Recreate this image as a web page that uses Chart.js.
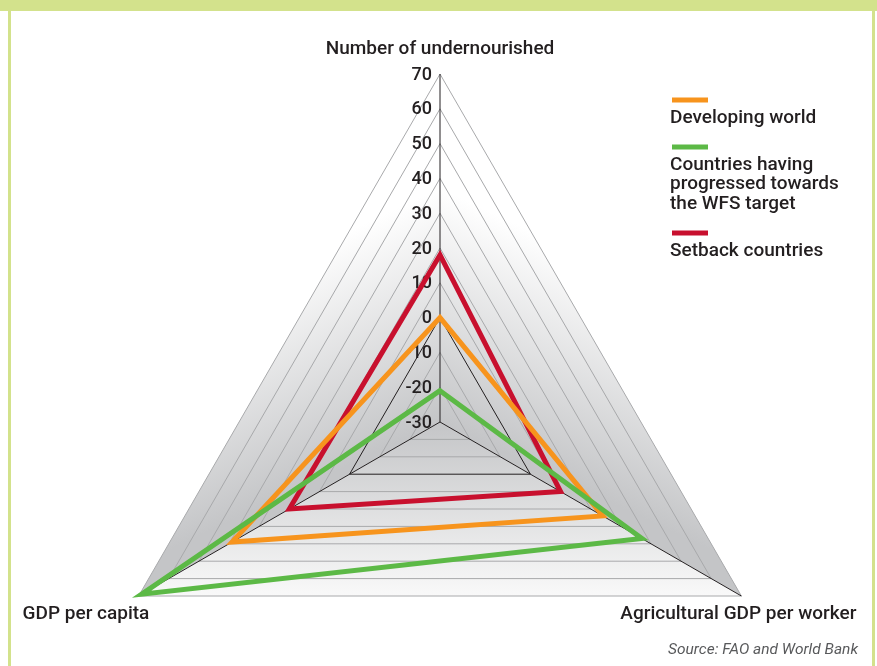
<!DOCTYPE html>
<html><head><meta charset="utf-8">
<script src="https://cdn.jsdelivr.net/npm/chart.js@4/dist/chart.umd.min.js"></script>
<style>
html,body{margin:0;padding:0;overflow:hidden;background:#fff;width:877px;height:666px;}
#band{position:absolute;left:0;top:0;width:877px;height:11px;background:#d3e28c;}
#lb{position:absolute;left:8px;top:0;width:3px;height:666px;background:#d3e28c;}
#rb{position:absolute;left:872px;top:0;width:3px;height:666px;background:#d3e28c;}
#wrap{position:absolute;left:0;top:0;width:877px;height:770px;}
</style></head><body>
<div id="band"></div><div id="lb"></div><div id="rb"></div>
<div id="wrap"><canvas id="c"></canvas></div>
<script>
const categories = ["Number of undernourished", "Agricultural GDP per worker", "GDP per capita"];
const developingWorld = [0, 24, 39];
const progressedCountries = [-21, 37, 69];
const setbackCountries = [18, 10, 20];
const tickValues = [-30, -20, -10, 0, 10, 20, 30, 40, 50, 60, 70];
const seriesNames = [["Developing world"], ["Countries having", "progressed towards", "the WFS target"], ["Setback countries"]];
const seriesColors = ["#f7941d", "#5cb946", "#c8102e"];
const sourceNote = "Source: FAO and World Bank";

const FONT = 'Roboto, "DejaVu Sans", sans-serif';
const INK = '#231f20';

const facePlugin = {
  id: 'faces',
  beforeDraw(chart) {
    const s = chart.scales.r, ctx = chart.ctx;
    const C = {x: s.xCenter, y: s.yCenter};
    const R = s.getDistanceFromCenterForValue(s.max);
    const V = [0, 1, 2].map(i => s.getPointPosition(i, R));
    function face(a, b, fill) {
      ctx.beginPath(); ctx.moveTo(C.x, C.y); ctx.lineTo(a.x, a.y); ctx.lineTo(b.x, b.y); ctx.closePath();
      ctx.fillStyle = fill; ctx.fill();
    }
    function along(a, b, t) { return {x: a.x + t * (b.x - a.x), y: a.y + t * (b.y - a.y)}; }
    ctx.save();
    let p = along(V[0], V[1], 0.3);
    let g = ctx.createLinearGradient(p.x, p.y, C.x, C.y);
    g.addColorStop(0, '#ffffff'); g.addColorStop(1, '#c4c5c7');
    face(V[0], V[1], g);
    p = along(V[0], V[2], 0.3);
    g = ctx.createLinearGradient(p.x, p.y, C.x, C.y);
    g.addColorStop(0, '#ffffff'); g.addColorStop(1, '#c4c5c7');
    face(V[2], V[0], g);
    g = ctx.createLinearGradient(C.x, V[1].y, C.x, C.y);
    g.addColorStop(0, '#f9f9f9'); g.addColorStop(1, '#c4c5c7');
    face(V[1], V[2], g);
    ctx.restore();
  },
  beforeDatasetsDraw(chart) {
    const s = chart.scales.r, ctx = chart.ctx;
    ctx.save();
    ctx.fillStyle = INK;
    ctx.font = '500 18px ' + FONT;
    ctx.textAlign = 'right'; ctx.textBaseline = 'middle';
    tickValues.forEach(v => {
      const y = s.yCenter - s.getDistanceFromCenterForValue(v);
      ctx.fillText(String(v), s.xCenter - 8, y + 1);
    });
    ctx.restore();
  },
  afterDraw(chart) {
    const s = chart.scales.r, ctx = chart.ctx;
    const R = s.getDistanceFromCenterForValue(s.max);
    const V = [0, 1, 2].map(i => s.getPointPosition(i, R));
    ctx.save();
    ctx.fillStyle = INK;
    ctx.font = '500 19px ' + FONT;
    ctx.textBaseline = 'middle';
    ctx.textAlign = 'center';
    ctx.fillText(categories[0], V[0].x, V[0].y - 25);
    ctx.textAlign = 'right';
    ctx.fillText(categories[1], V[1].x + 115, V[1].y + 18);
    ctx.textAlign = 'left';
    ctx.fillText(categories[2], V[2].x - 116, V[2].y + 18);
    // legend
    let y = 100;
    const lx = 672;
    seriesNames.forEach((lines, i) => {
      ctx.fillStyle = seriesColors[i];
      ctx.fillRect(lx, y - 2.5, 36, 5);
      ctx.fillStyle = INK;
      ctx.textAlign = 'left';
      let ty = y + 18;
      lines.forEach((ln, k) => {
        ctx.fillText(ln, lx - 2, ty);
        if (k < lines.length - 1) ty += 19.5;
      });
      y = ty + 29;
    });
    // source
    ctx.font = 'italic 15.5px ' + FONT;
    ctx.fillStyle = '#58595b';
    ctx.textAlign = 'right';
    ctx.fillText(sourceNote, 858, 650);
    ctx.restore();
  }
};

const seriesData = [developingWorld, progressedCountries, setbackCountries];
const drawOrder = [1, 0, 2];

new Chart(document.getElementById('c'), {
  type: 'radar',
  data: {
    labels: categories,
    datasets: seriesData.map((d, i) => ({
      label: seriesNames[i].join(' '),
      data: d,
      borderColor: seriesColors[i],
      backgroundColor: 'transparent',
      borderWidth: 5,
      borderJoinStyle: 'miter',
      pointRadius: 0,
      pointHoverRadius: 0,
      fill: false,
      tension: 0,
      order: drawOrder[i]
    }))
  },
  options: {
    responsive: true,
    maintainAspectRatio: false,
    animation: false,
    layout: {padding: {top: 74, left: 92, right: 89, bottom: 0}},
    plugins: {legend: {display: false}, tooltip: {enabled: false}},
    scales: {
      r: {
        min: tickValues[0],
        max: tickValues[tickValues.length - 1],
        beginAtZero: false,
        ticks: {display: false, stepSize: 10},
        pointLabels: {display: false},
        grid: {color: c => (c.tick && c.tick.value === 0) ? INK : '#a8a9ab', lineWidth: 1},
        angleLines: {color: INK, lineWidth: 1}
      }
    }
  },
  plugins: [facePlugin]
});
</script>
</body></html>
